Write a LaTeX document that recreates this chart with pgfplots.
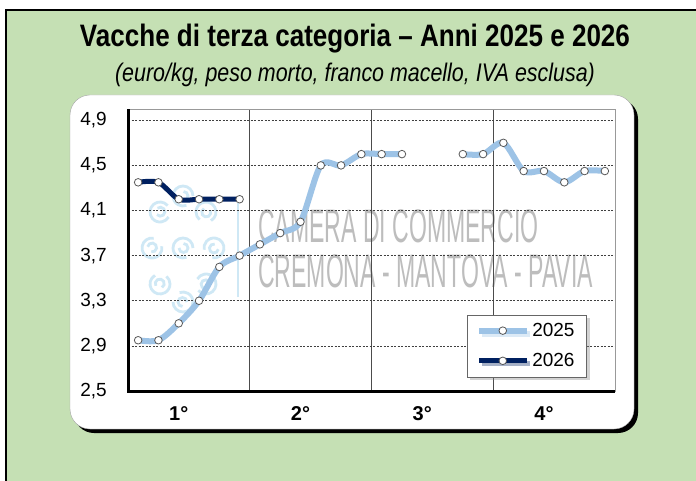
\documentclass[border=0pt]{standalone}
\usepackage{pgfplots}
\pgfplotsset{compat=1.18}
\usepackage{pgfplotstable}
\usepackage{fontspec}
\setmainfont{Liberation Sans}
\newfontfamily\narrowfont[FakeStretch=0.84]{Liberation Sans}
\newfontfamily\wmfont[FakeStretch=0.49]{Liberation Sans}
\usetikzlibrary{shadows}
\definecolor{bggreen}{RGB}{197,224,180}
\definecolor{lblue}{RGB}{157,195,230}
\definecolor{navy}{RGB}{0,32,96}
\definecolor{logoblue}{RGB}{160,210,236}

\pgfplotstableread{
x y
1 2.95
2 2.95
3 3.10
4 3.30
5 3.60
6 3.70
7 3.80
8 3.90
9 4.00
10 4.50
11 4.50
12 4.60
13 4.60
14 4.60
15 nan
16 nan
17 4.60
18 4.60
19 4.70
20 4.45
21 4.45
22 4.35
23 4.45
24 4.45
}\seriesA

\pgfplotstableread{
x y
1 4.35
2 4.35
3 4.20
4 4.20
5 4.20
6 4.20
}\seriesB

\begin{document}
\begin{tikzpicture}[x=1pt,y=1pt]
\useasboundingbox (0,0) rectangle (696,480);
\fill[bggreen] (6,-20) rectangle (720,470);
\draw[black, line width=2pt] (6,-20) -- (6,470) -- (720,470);
% title
\node[anchor=base, inner sep=0] at (355,433) {\narrowfont\bfseries\fontsize{31}{31}\selectfont Vacche di terza categoria – Anni 2025 e 2026};
\node[anchor=base, inner sep=0] at (355,398.5) {\narrowfont\itshape\fontsize{25.5}{25.5}\selectfont (euro/kg, peso morto, franco macello, IVA esclusa)};
% white box with shadow
\fill[black, rounded corners=20pt] (74,47) rectangle (638,381);
\filldraw[fill=white, draw=gray!70, rounded corners=20pt] (70,51) rectangle (634,385);
% watermark logo
\begin{scope}[logoblue, line width=2.8pt, opacity=0.5]
\foreach \cx/\cy/\r in {183/284/0, 160/268/40, 152/232/80, 160/196/120, 183/178/180, 206/196/220, 214/232/260, 206/268/300, 183/232/0}{
  \begin{scope}[shift={(\cx,\cy)}, rotate=\r]
  \draw (10,0) arc (0:290:10);
  \draw (-4,0) arc (180:450:4.5);
  \end{scope}
}
\draw (238,183) -- (238,277);
\end{scope}
% watermark text
\node[anchor=base west, inner sep=0, text=black!26] at (258,238) {\wmfont\fontsize{47}{47}\selectfont CAMERA DI COMMERCIO};
\node[anchor=base west, inner sep=0, text=black!26] at (258,193) {\wmfont\fontsize{47}{47}\selectfont CREMONA - MANTOVA - PAVIA};
\begin{axis}[
  at={(128pt,89pt)}, anchor=south west,
  width=487pt, height=282pt, scale only axis,
  xmin=0.5, xmax=24.5, ymin=2.5, ymax=5.0,
  clip=false,
  unbounded coords=jump,
  ytick={2.5,2.9,3.3,3.7,4.1,4.5,4.9},
  yticklabel style={/pgf/number format/fixed, /pgf/number format/fixed zerofill, /pgf/number format/precision=1, /pgf/number format/use comma, /pgf/number format/assume math mode=true, inner sep=0pt, xshift=-21pt},
  xtick={6.5,12.5,18.5}, xticklabels={},
  extra x ticks={3,9,15,21},
  extra x tick labels={1°,2°,3°,4°},
  extra x tick style={grid=none, xticklabel style={font=\bfseries\fontsize{20}{20}\selectfont, inner sep=0pt, yshift=-15pt}},
  xmajorgrids, ymajorgrids,
  major x grid style={black!70, line width=0.8pt},
  major y grid style={black!75, line width=0.7pt, dash pattern=on 2pt off 1.5pt},
  major tick length=0pt,
  axis line style={gray!80, line width=1pt},
  tick label style={font=\fontsize{19}{19}\selectfont},
  legend style={at={(0.942,0.05)}, anchor=south east, draw=black!60, fill=white,
    font=\fontsize{19}{19}\selectfont, inner xsep=9pt, inner ysep=5.5pt, row sep=9.4pt,
    nodes={inner sep=3pt},
    cells={anchor=west},
    drop shadow={shadow xshift=3pt, shadow yshift=-3pt, opacity=0.35}},
  legend image code/.code={\draw[mark repeat=2,mark phase=2,#1] plot coordinates {(0pt,0pt) (23.5pt,0pt) (47pt,0pt)};},
]
\addplot[lblue, line width=6pt, smooth, mark=*, mark size=3.8pt, mark options={fill=white, draw=black!65, line width=0.8pt}] table {\seriesA};
\addlegendentry{2025}
\addplot[navy, line width=5pt, smooth, mark=*, mark size=3.8pt, mark options={fill=white, draw=black!65, line width=0.8pt}] table {\seriesB};
\addlegendentry{2026}
\draw[black, line width=3pt] (rel axis cs:0,1) -- (rel axis cs:0,0) -- (rel axis cs:1,0);
\end{axis}
\end{tikzpicture}
\end{document}
